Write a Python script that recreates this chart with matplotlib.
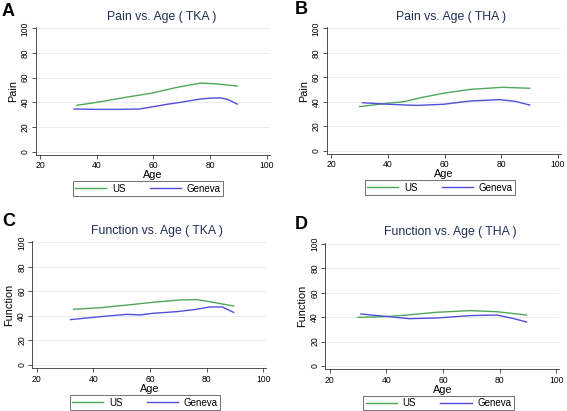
import matplotlib
matplotlib.use("Agg")
import matplotlib.pyplot as plt

plt.rcParams['font.family'] = ['Liberation Sans', 'DejaVu Sans']

# age grid points and smoothed scores
# A: Pain vs Age (TKA)
a_us_age = [33, 40, 50, 59.5, 68, 76.5, 82, 89.5]
a_us = [37.6, 40.0, 44.0, 47.5, 52.0, 55.6, 55.0, 53.2]
a_ge_age = [32, 40, 48, 55, 60, 65, 69.5, 76.5, 80, 83.5, 86, 89.5]
a_ge = [34.6, 34.3, 34.3, 34.6, 36.5, 38.5, 40.0, 42.7, 43.4, 43.6, 42.5, 38.6]

# B: Pain vs Age (THA)
b_us_age = [30, 39.5, 45.5, 52, 59.5, 69, 80.5, 90]
b_us = [36.0, 38.7, 40.0, 43.5, 46.9, 50.1, 51.8, 51.0]
b_ge_age = [31, 40.5, 50, 59.5, 69, 79.5, 85, 90]
b_ge = [39.2, 37.9, 37.0, 37.9, 40.6, 41.7, 40.3, 37.3]

# C: Function vs Age (TKA)
c_us_age = [33, 42.5, 52, 61, 70.5, 76.5, 81, 89.5]
c_us = [45.4, 46.7, 48.9, 51.1, 53.0, 53.3, 51.6, 48.1]
c_ge_age = [32, 42.5, 52, 56.5, 61, 69.5, 75.5, 81, 85.5, 89.5]
c_ge = [37.0, 39.4, 41.3, 40.8, 42.1, 43.5, 45.1, 47.3, 47.3, 42.9]

# D: Function vs Age (THA)
d_us_age = [30, 39, 46, 57.5, 69.5, 79, 89.5]
d_us = [39.9, 40.4, 41.5, 44.0, 45.4, 44.5, 41.8]
d_ge_age = [31, 41, 48, 57.5, 69.5, 79, 84.5, 89.5]
d_ge = [42.6, 40.4, 38.8, 39.3, 41.3, 41.8, 39.1, 36.1]

letters = ["A", "B", "C", "D"]
titles = ["Pain vs. Age ( TKA )", "Pain vs. Age ( THA )",
          "Function vs. Age ( TKA )", "Function vs. Age ( THA )"]
ylabels = ["Pain", "Pain", "Function", "Function"]
xticks = [20, 40, 60, 80, 100]
yticks = [0, 20, 40, 60, 80, 100]

W, H = 567, 411
fig = plt.figure(figsize=(W / 100, H / 100), dpi=100)

# pixel layout: x=20, x=100, y=0, y=100 positions
layout = [
    (40.0, 267.0, 151.7, 28.3),
    (331.3, 558.0, 150.7, 28.3),
    (36.7, 263.3, 365.0, 242.3),
    (329.7, 556.3, 366.0, 244.0),
]
title_pos = [(162, 17), (451, 17), (157, 231), (450, 232)]
letter_pos = [(2, 11), (295, 10), (2, 221), (295, 224)]
legend_pos = [(148, 188.5), (440, 187.5), (145, 402.5), (438.5, 403)]

xlim = (18.5, 101)
ylim = (-2.7, 101)
green = "#4fa85a"
blue = "#5050dc"

data = [
    (a_us_age, a_us, a_ge_age, a_ge),
    (b_us_age, b_us, b_ge_age, b_ge),
    (c_us_age, c_us, c_ge_age, c_ge),
    (d_us_age, d_us, d_ge_age, d_ge),
]

for i in range(4):
    x20, x100, y0, y100 = layout[i]
    sx = (x100 - x20) / 80.0
    sy = (y0 - y100) / 100.0
    left = x20 + (xlim[0] - 20) * sx
    right = x20 + (xlim[1] - 20) * sx
    bottom = y0 - ylim[0] * sy
    top = y0 - ylim[1] * sy
    ax = fig.add_axes([left / W, 1 - bottom / H, (right - left) / W, (bottom - top) / H])
    us_age, us, ge_age, ge = data[i]
    l1, = ax.plot(us_age, us, color=green, lw=1.0, label="US")
    l2, = ax.plot(ge_age, ge, color=blue, lw=1.0, label="Geneva")
    ax.set_xlim(*xlim)
    ax.set_ylim(*ylim)
    ax.set_xticks(xticks)
    ax.set_yticks(yticks)
    for g in yticks:
        ax.axhline(g, color="#e4eaee", lw=0.6, zorder=0)
    for s in ["top", "right"]:
        ax.spines[s].set_visible(False)
    for s in ["left", "bottom"]:
        ax.spines[s].set_linewidth(0.6)
        ax.spines[s].set_color("#333333")
    ax.tick_params(length=3, width=0.6, labelsize=6.2, pad=1.5, color="#333333")
    plt.setp(ax.get_yticklabels(), rotation=90, va="center")
    ax.set_xlabel("Age", fontsize=7.8, labelpad=0)
    ax.set_ylabel(ylabels[i], fontsize=7.8, labelpad=2)

    tx, ty = title_pos[i]
    fig.text(tx / W, 1 - ty / H, titles[i], ha="center", va="center",
             fontsize=8.8, color="#1f2d57")
    lx, ly = letter_pos[i]
    fig.text(lx / W, 1 - ly / H, letters[i], ha="left", va="center",
             fontsize=13, fontweight="bold")
    gx, gy = legend_pos[i]
    leg = fig.legend(handles=[l1, l2], loc="center", ncol=2,
                     bbox_to_anchor=(gx / W, 1 - gy / H), fontsize=7,
                     frameon=True, fancybox=False, handlelength=3.2,
                     columnspacing=2.5, borderpad=0.25, handletextpad=0.6)
    leg.get_frame().set_edgecolor("#333333")
    leg.get_frame().set_linewidth(0.6)

fig.savefig("out.png", dpi=100)
